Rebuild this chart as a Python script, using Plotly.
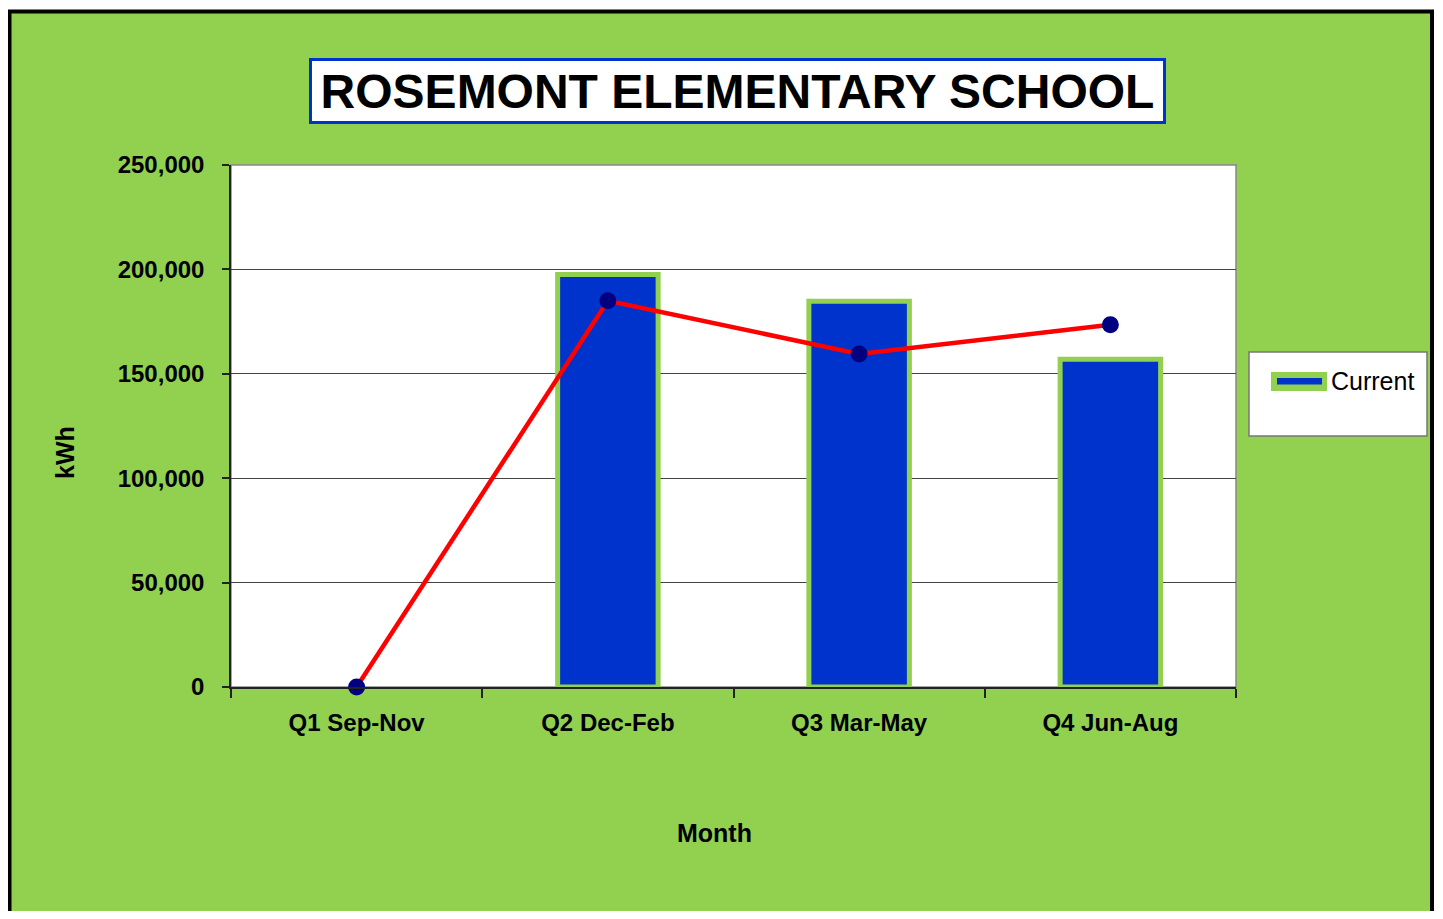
import plotly.graph_objects as go

# chart data
quarters = ['Q1 Sep-Nov', 'Q2 Dec-Feb', 'Q3 Mar-May', 'Q4 Jun-Aug']
current_kwh = [None, 197500, 184800, 157000]
previous_kwh = [0, 185000, 159500, 173500]
y_ticks = [0, 50000, 100000, 150000, 200000, 250000]

GREEN = '#92D050'
BLUE = '#0033CC'
FONT = 'Liberation Sans, Arial, sans-serif'

W, H = 1427, 903
OFF = 8                             # page body margin
L, R, T, B = 231, 1236, 165, 687   # plot area in page pixels


# page pixel -> paper coordinates helpers
def px(x):
    return (x - L) / (R - L)


def py(y):
    return (B - y) / (B - T)


fig = go.Figure()

fig.add_trace(go.Bar(
    x=quarters, y=current_kwh, name='Current',
    width=0.4,
    marker=dict(color=BLUE, line=dict(color=GREEN, width=5)),
    showlegend=False
))

fig.add_trace(go.Scatter(
    x=quarters, y=previous_kwh, mode='lines+markers',
    line=dict(color='#FF0000', width=4.5),
    marker=dict(color='#000080', size=17),
    cliponaxis=False,
    showlegend=False
))

shapes = [
    # outer green frame
    dict(type='rect', xref='paper', yref='paper', layer='below',
         x0=px(9.5), x1=px(1432), y0=py(960), y1=py(11.5),
         fillcolor=GREEN, line=dict(color='black', width=4)),
    # white plot area
    dict(type='rect', xref='paper', yref='paper', layer='below',
         x0=0, x1=1, y0=0, y1=1,
         fillcolor='white', line=dict(color='#888888', width=1.5)),
    # legend box
    dict(type='rect', xref='paper', yref='paper',
         x0=px(1249), x1=px(1427), y0=py(436), y1=py(352),
         fillcolor='white', line=dict(color='#777777', width=1.5)),
    # legend symbol
    dict(type='rect', xref='paper', yref='paper',
         x0=px(1271), x1=px(1327), y0=py(391), y1=py(372),
         fillcolor=GREEN, line=dict(width=0)),
    dict(type='rect', xref='paper', yref='paper',
         x0=px(1277), x1=px(1322), y0=py(384.5), y1=py(378),
         fillcolor=BLUE, line=dict(width=0)),
]

annotations = [
    dict(text='<b>ROSEMONT ELEMENTARY SCHOOL</b>', xref='paper', yref='paper',
         x=px(737.5), y=py(91), xanchor='center', yanchor='middle',
         showarrow=False, font=dict(family=FONT, size=48, color='black'),
         bgcolor='white', bordercolor=BLUE, borderwidth=3, borderpad=0,
         width=851, height=60),
    dict(text='Current', xref='paper', yref='paper',
         x=px(1329), y=py(381), xanchor='left', yanchor='middle',
         showarrow=False, font=dict(family=FONT, size=25, color='black')),
    dict(text='<b>kWh</b>', xref='paper', yref='paper',
         x=px(65), y=py(453), xanchor='center', yanchor='middle',
         textangle=-90, showarrow=False,
         font=dict(family=FONT, size=25, color='black')),
    dict(text='<b>Month</b>', xref='paper', yref='paper',
         x=px(714), y=py(833), xanchor='center', yanchor='middle',
         showarrow=False, font=dict(family=FONT, size=25, color='black')),
]

fig.update_layout(
    width=W, height=H, autosize=False,
    margin=dict(l=L - OFF, r=W - R + OFF, t=T - OFF, b=H - B + OFF, pad=0),
    paper_bgcolor='white', plot_bgcolor='white',
    font=dict(family=FONT, color='black'),
    shapes=shapes, annotations=annotations,
)

fig.update_xaxes(
    type='category', range=[-0.5, 3.5], tickson='boundaries',
    ticks='outside', ticklen=9, tickwidth=1.5, tickcolor='#222222',
    showline=True, linecolor='#222222', linewidth=1.5,
    showgrid=False, zeroline=False,
    tickfont=dict(family=FONT, size=24, color='black'),
    ticklabelstandoff=13,
)
fig.update_xaxes(tickvals=quarters, ticktext=[f'<b>{q}</b>' for q in quarters])

fig.update_yaxes(
    range=[0, 250000], tickvals=y_ticks,
    ticktext=[f'<b>{v:,}</b>' for v in y_ticks],
    ticks='outside', ticklen=7, tickwidth=1.5, tickcolor='#222222',
    showline=True, linecolor='#222222', linewidth=1.5,
    showgrid=True, gridcolor='#444444', gridwidth=1, zeroline=False,
    tickfont=dict(family=FONT, size=24, color='black'),
    ticklabelstandoff=13,
)

fig.write_html('out.html')
